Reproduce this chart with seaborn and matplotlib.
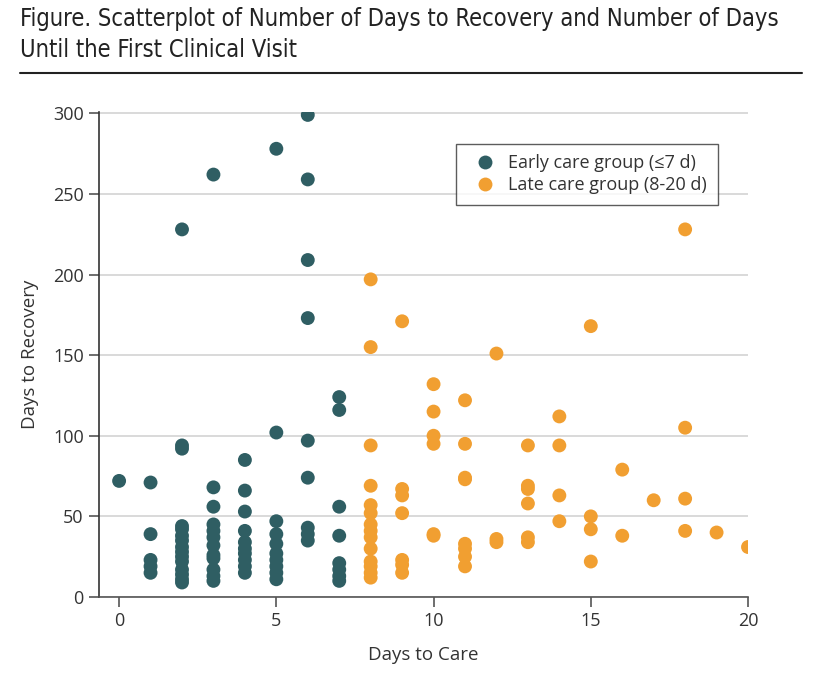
import pandas as pd
import matplotlib.pyplot as plt
import seaborn as sns

# Days to care (x) and the recovery times read for each day column
early_days = [0, 1, 2, 3, 4, 5, 6, 7]
early_recovery = [
    [72],
    [71, 39, 23, 19, 15],
    [228, 94, 92, 44, 42, 38, 35, 31, 28, 25, 22, 17, 14, 11, 9],
    [262, 68, 56, 45, 41, 37, 32, 26, 24, 17, 13, 10],
    [85, 66, 53, 41, 34, 30, 27, 23, 19, 15],
    [278, 102, 47, 39, 33, 27, 23, 19, 15, 11],
    [299, 259, 209, 173, 97, 74, 43, 39, 35],
    [124, 116, 56, 38, 21, 17, 13, 10],
]

late_days = [8, 9, 10, 11, 12, 13, 14, 15, 16, 17, 18, 19, 20]
late_recovery = [
    [197, 155, 94, 69, 57, 52, 45, 41, 37, 30, 22, 19, 15, 12],
    [171, 67, 63, 52, 23, 20, 15],
    [132, 115, 100, 95, 39, 38],
    [122, 95, 74, 73, 33, 30, 25, 19],
    [151, 36, 34],
    [94, 69, 67, 58, 37, 34],
    [112, 94, 63, 47],
    [168, 50, 42, 22],
    [79, 38],
    [60],
    [228, 105, 61, 41],
    [40],
    [31],
]

early_label = 'Early care group (≤7 d)'
late_label = 'Late care group (8-20 d)'

rows = []
for d, ys in zip(early_days, early_recovery):
    rows += [(d, y, early_label) for y in ys]
for d, ys in zip(late_days, late_recovery):
    rows += [(d, y, late_label) for y in ys]
df = pd.DataFrame(rows, columns=['care', 'recovery', 'group'])

sns.set_theme(style='white')
plt.rcParams['font.family'] = ['Open Sans', 'DejaVu Sans']

fig = plt.figure(figsize=(8.16, 6.84), dpi=100)
ax = fig.add_axes([0.1213, 0.1272, 0.7954, 0.7095])

palette = {early_label: '#2F5E63', late_label: '#F19F31'}
sns.scatterplot(data=df, x='care', y='recovery', hue='group', palette=palette,
                s=100, linewidth=0, alpha=1, ax=ax, zorder=3)

ax.set_xlim(-0.64, 20)
ax.set_ylim(0, 301)
ax.set_xticks([0, 5, 10, 15, 20])
ax.set_yticks([0, 50, 100, 150, 200, 250, 300])
ax.yaxis.grid(True, color='#d9d9d9', linewidth=1.4)
ax.set_axisbelow(True)
for s in ['top', 'right']:
    ax.spines[s].set_visible(False)
ax.spines['left'].set_color('#333333')
ax.spines['bottom'].set_color('#555555')
ax.spines['left'].set_linewidth(1.2)
ax.spines['bottom'].set_linewidth(1.2)
ax.tick_params(axis='both', which='major', length=7, width=1.2, color='#555555',
               labelsize=13, labelcolor='#333333', bottom=True, left=True, pad=4)

ax.set_xlabel('Days to Care', fontsize=13.5, color='#333333', labelpad=11)
ax.set_ylabel('Days to Recovery', fontsize=13.5, color='#333333', labelpad=10)

leg = ax.legend(loc='upper right', bbox_to_anchor=(0.967, 0.953), frameon=True,
                fontsize=13, fancybox=False, borderpad=0.6, handletextpad=0.3,
                labelspacing=0.2, markerscale=1.0)
leg.get_frame().set_edgecolor('#333333')
leg.get_frame().set_linewidth(1.0)
for t in leg.get_texts():
    t.set_color('#333333')

fig.text(0.0245, 0.99,
         'Figure. Scatterplot of Number of Days to Recovery and Number of Days\nUntil the First Clinical Visit',
         fontsize=17, va='top', ha='left', color='#222222', linespacing=1.38,
         family=['Liberation Sans Narrow', 'DejaVu Sans'], fontstretch='condensed',
         fontweight='medium')
fig.add_artist(plt.Line2D([0.0245, 0.983], [0.893, 0.893], color='#222222', linewidth=1.5))

fig.savefig('out.png', dpi=100)
